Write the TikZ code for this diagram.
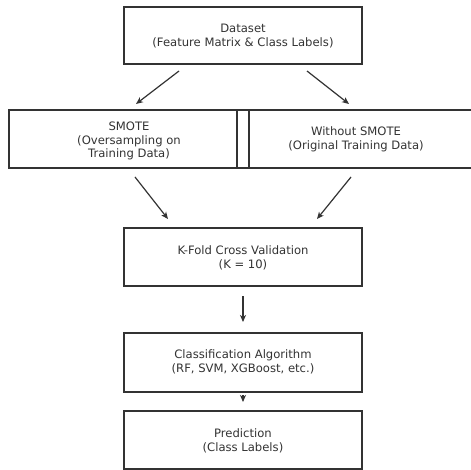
\documentclass[tikz,border=0pt]{standalone}
\usepackage{fontspec}
\setmainfont{DejaVu Sans}
\usetikzlibrary{arrows.meta}
\definecolor{ln}{HTML}{333333}
\definecolor{tx}{HTML}{333333}
\tikzset{
  box/.style={draw=ln, line width=1.3pt, rectangle, inner sep=0pt},
  txt/.style={align=center, text=tx, font=\fontsize{11.6}{13.8}\selectfont, inner sep=0pt},
  arr/.style={draw=ln, line width=1.2pt, -{Stealth[length=7pt,width=6pt,inset=2pt]}}
}
\begin{document}
\begin{tikzpicture}[x=1pt,y=-1pt]
\clip (0,0) rectangle (471,470);
\fill[white] (0,0) rectangle (471,470);
% boxes
\node[box, minimum width=238pt, minimum height=57pt] (data) at (243,35.5) {};
\node[box, minimum width=228pt, minimum height=58pt] (smote) at (123,139) {};
\node[box, minimum width=12pt, minimum height=58pt] (gapbox) at (243,139) {};
\node[box, minimum width=231pt, minimum height=58pt] (without) at (364.5,139) {};
\node[box, minimum width=238pt, minimum height=58pt] (kfold) at (243,257) {};
\node[box, minimum width=238pt, minimum height=59pt] (clf) at (243,362.5) {};
\node[box, minimum width=238pt, minimum height=58pt] (pred) at (243,440) {};
% texts
\node[txt] (datat) at (243,36) {Dataset\\(Feature Matrix \& Class Labels)};
\node[txt] (smotet) at (129,141) {SMOTE\\(Oversampling on\\Training Data)};
\node[txt] (withoutt) at (356,139.5) {Without SMOTE\\(Original Training Data)};
\node[txt] (kfoldt) at (243,258) {K-Fold Cross Validation\\(K = 10)};
\node[txt] (clft) at (243,362) {Classification Algorithm\\(RF, SVM, XGBoost, etc.)};
\node[txt] (predt) at (243,440.5) {Prediction\\(Class Labels)};
% arrow end points
\coordinate (a1s) at (179,71);  \coordinate (a1e) at (136,104);
\coordinate (a2s) at (307,71);  \coordinate (a2e) at (349,104);
\coordinate (a3s) at (135,177); \coordinate (a3e) at (168,219);
\coordinate (a4s) at (351,177); \coordinate (a4e) at (317,219);
\coordinate (a5s) at (243,296); \coordinate (a5e) at (243,322);
\coordinate (a6s) at (243,395); \coordinate (a6e) at (243,402);
\draw[arr] (a1s) -- (a1e);
\draw[arr] (a2s) -- (a2e);
\draw[arr] (a3s) -- (a3e);
\draw[arr] (a4s) -- (a4e);
\draw[arr] (a5s) -- (a5e);
\draw[arr] (a6s) -- (a6e);
\end{tikzpicture}
\end{document}
